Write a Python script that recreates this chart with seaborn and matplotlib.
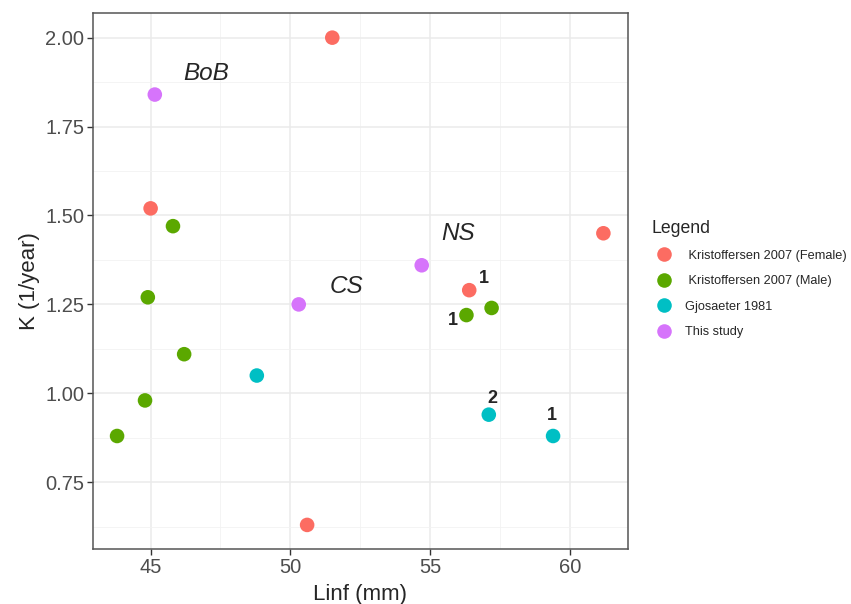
import matplotlib
matplotlib.use("Agg")
import matplotlib.pyplot as plt
import numpy as np
import pandas as pd
import seaborn as sns
from matplotlib.ticker import FixedLocator

# data
GROUPS = [
    " Kristoffersen 2007 (Female)",
    " Kristoffersen 2007 (Male)",
    "Gjosaeter 1981",
    "This study",
]
female_linf = [51.5, 45.0, 61.2, 56.4, 50.6]
female_k = [2.00, 1.52, 1.45, 1.29, 0.63]
male_linf = [45.8, 44.9, 56.3, 57.2, 46.2, 44.8, 43.8]
male_k = [1.47, 1.27, 1.22, 1.24, 1.11, 0.98, 0.88]
gjos_linf = [48.8, 57.1, 59.4]
gjos_k = [1.05, 0.94, 0.88]
study_linf = [45.15, 50.3, 54.7]
study_k = [1.84, 1.25, 1.36]

region_labels = ["BoB", "CS", "NS"]
region_x = [47.0, 52.0, 56.0]
region_y = [1.90, 1.30, 1.45]

num_labels = ["1", "1", "2", "1"]
num_x = [56.93, 55.83, 57.23, 59.35]
num_y = [1.322, 1.205, 0.986, 0.937]

COLORS = ["#FC6C62", "#5BA800", "#00BFC4", "#D674FB"]

df = pd.concat([
    pd.DataFrame({"Linf": female_linf, "K": female_k, "group": GROUPS[0]}),
    pd.DataFrame({"Linf": male_linf, "K": male_k, "group": GROUPS[1]}),
    pd.DataFrame({"Linf": gjos_linf, "K": gjos_k, "group": GROUPS[2]}),
    pd.DataFrame({"Linf": study_linf, "K": study_k, "group": GROUPS[3]}),
], ignore_index=True)

sns.set_style("white")
plt.rcParams["font.family"] = ["Liberation Sans", "DejaVu Sans"]

fig = plt.figure(figsize=(8.51, 6.04), dpi=100)
ax = fig.add_axes([0.109, 0.0906, 0.6286, 0.8874])

sns.scatterplot(data=df, x="Linf", y="K", hue="group", hue_order=GROUPS,
                palette=dict(zip(GROUPS, COLORS)), s=110, linewidth=0,
                ax=ax, zorder=3)

for lab, x, y in zip(region_labels, region_x, region_y):
    ax.text(x, y, lab, fontsize=17.5, fontstyle="italic", ha="center", va="center")
for lab, x, y in zip(num_labels, num_x, num_y):
    ax.text(x, y, lab, fontsize=13, fontweight="bold", ha="center", va="center")

# ggplot-style 5% expansion
xr = df["Linf"].max() - df["Linf"].min()
yr = df["K"].max() - df["K"].min()
ax.set_xlim(df["Linf"].min() - 0.05 * xr, df["Linf"].max() + 0.05 * xr)
ax.set_ylim(df["K"].min() - 0.05 * yr, df["K"].max() + 0.05 * yr)

ax.set_xticks([45, 50, 55, 60])
ax.set_yticks([0.75, 1.00, 1.25, 1.50, 1.75, 2.00])
ax.set_yticklabels(["0.75", "1.00", "1.25", "1.50", "1.75", "2.00"])
ax.xaxis.set_minor_locator(FixedLocator([47.5, 52.5, 57.5]))
ax.yaxis.set_minor_locator(FixedLocator([0.625, 0.875, 1.125, 1.375, 1.625, 1.875]))
ax.grid(True, which="major", color="#EBEBEB", lw=1.1, zorder=0)
ax.grid(True, which="minor", color="#F2F2F2", lw=0.6, zorder=0)
ax.set_axisbelow(True)
ax.tick_params(which="major", length=4, width=1, color="#333333",
               labelsize=14.5, labelcolor="#4D4D4D", pad=2, left=True, bottom=True)
ax.tick_params(which="minor", length=0)
for sp in ax.spines.values():
    sp.set_color("#555555")
    sp.set_linewidth(1.1)

ax.set_xlabel("Linf (mm)", fontsize=16, labelpad=5)
ax.set_ylabel("K (1/year)", fontsize=16, labelpad=4)

leg = ax.legend(title="Legend", loc="upper left", bbox_to_anchor=(0.7595, 0.645),
                bbox_transform=fig.transFigure, frameon=False, fontsize=9.2,
                title_fontsize=12.7, markerscale=1.0, handletextpad=0.6,
                labelspacing=1.05, borderaxespad=0)
leg._legend_box.align = "left"

fig.savefig("out.png", dpi=100)
